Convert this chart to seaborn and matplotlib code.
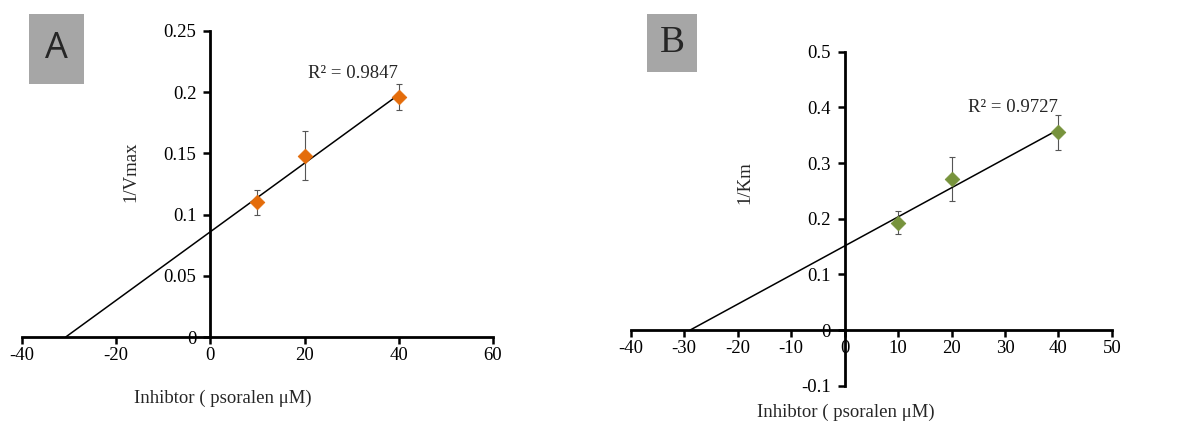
import numpy as np
import pandas as pd
import matplotlib
matplotlib.use("Agg")
import matplotlib.pyplot as plt
import seaborn as sns

sns.set_style("white")
plt.rcParams['font.family'] = ['Liberation Serif', 'DejaVu Serif']

# Panel A: 1/Vmax vs inhibitor
conc = [10, 20, 40]
inv_vmax = [0.110, 0.148, 0.196]
inv_vmax_err = [0.010, 0.020, 0.0105]
r2_a = "R² = 0.9847"

# Panel B: 1/Km vs inhibitor
inv_km = [0.193, 0.271, 0.355]
inv_km_err = [0.020, 0.040, 0.031]
r2_b = "R² = 0.9727"

xlabel = "Inhibtor ( psoralen μM)"

df_a = pd.DataFrame({"x": conc, "y": inv_vmax})
df_b = pd.DataFrame({"x": conc, "y": inv_km})

fig = plt.figure(figsize=(12.02, 4.21), dpi=100)
ax_a = fig.add_axes([0.0183, 0.1995, 0.3918, 0.7269])
ax_b = fig.add_axes([0.5247, 0.0838, 0.4004, 0.7934])


def draw_panel(ax, df, err, color, xlim, ylim, xticks, yticks):
    ax.errorbar(df["x"], df["y"], yerr=err, fmt="none", ecolor="#555555",
                elinewidth=0.8, capsize=2.5, capthick=0.8, zorder=2)
    sns.scatterplot(data=df, x="x", y="y", marker="D", s=55, color=color,
                    edgecolor=color, ax=ax, zorder=3)
    slope, icpt = np.polyfit(df["x"], df["y"], 1)
    x0 = -icpt / slope
    xs = np.array([x0, df["x"].max()])
    ax.plot(xs, slope * xs + icpt, color="black", lw=1.1, zorder=2)

    ax.set_xlim(*xlim)
    ax.set_ylim(*ylim)
    ax.set_xticks(xticks)
    ax.set_yticks(yticks)
    ax.set_yticklabels([f"{v:g}" for v in yticks])
    ax.set_xticklabels([f"{v:g}" for v in xticks])
    for s in ["top", "right"]:
        ax.spines[s].set_visible(False)
    for s in ["left", "bottom"]:
        ax.spines[s].set_position(("data", 0))
        ax.spines[s].set_linewidth(2)
        ax.spines[s].set_color("black")
    ax.tick_params(axis="both", direction="out", length=5, width=1.8,
                   labelsize=13.5, colors="black", bottom=True, left=True)
    ax.tick_params(axis="x", pad=2)
    ax.tick_params(axis="y", pad=5)
    ax.set_xlabel("")
    ax.set_ylabel("")
    ax.patch.set_alpha(0)


draw_panel(ax_a, df_a, inv_vmax_err, "#E46C0A", (-40, 60), (0, 0.25),
           [-40, -20, 0, 20, 40, 60], [0, 0.05, 0.1, 0.15, 0.2, 0.25])
draw_panel(ax_b, df_b, inv_km_err, "#77933C", (-40, 50), (-0.1, 0.5),
           list(range(-40, 51, 10)), [-0.1, 0, 0.1, 0.2, 0.3, 0.4, 0.5])

# axis labels and annotations (figure pixel coordinates)
W, H = 1202, 421


def ftext(x, y, s, **kw):
    fig.text(x / W, 1 - y / H, s, **kw)


ftext(131, 172, "1/Vmax", rotation=90, ha="center", va="center", fontsize=13.5)
ftext(745, 183, "1/Km", rotation=90, ha="center", va="center", fontsize=13.5)
ftext(223, 398, xlabel, ha="center", va="center", fontsize=13.5)
ftext(846, 412, xlabel, ha="center", va="center", fontsize=13.5)
ftext(353, 73, r2_a, ha="center", va="center", fontsize=13.5)
ftext(1013, 108, r2_b, ha="center", va="center", fontsize=13.5)

# panel letter boxes
for (x0, y0, x1, y1, letter, fam, fs) in [
        (29, 14, 84, 84, "A", ["Open Sans", "DejaVu Sans"], 26),
        (647, 14, 697, 72, "B", ["Liberation Serif", "DejaVu Serif"], 27)]:
    rect = plt.Rectangle((x0 / W, 1 - y1 / H), (x1 - x0) / W, (y1 - y0) / H,
                         transform=fig.transFigure, facecolor="#A6A6A6",
                         edgecolor="none")
    fig.patches.append(rect)
    ftext((x0 + x1) / 2, (y0 + y1) / 2, letter, ha="center", va="center",
          fontsize=fs, family=fam)

fig.savefig("out.png", dpi=100)
